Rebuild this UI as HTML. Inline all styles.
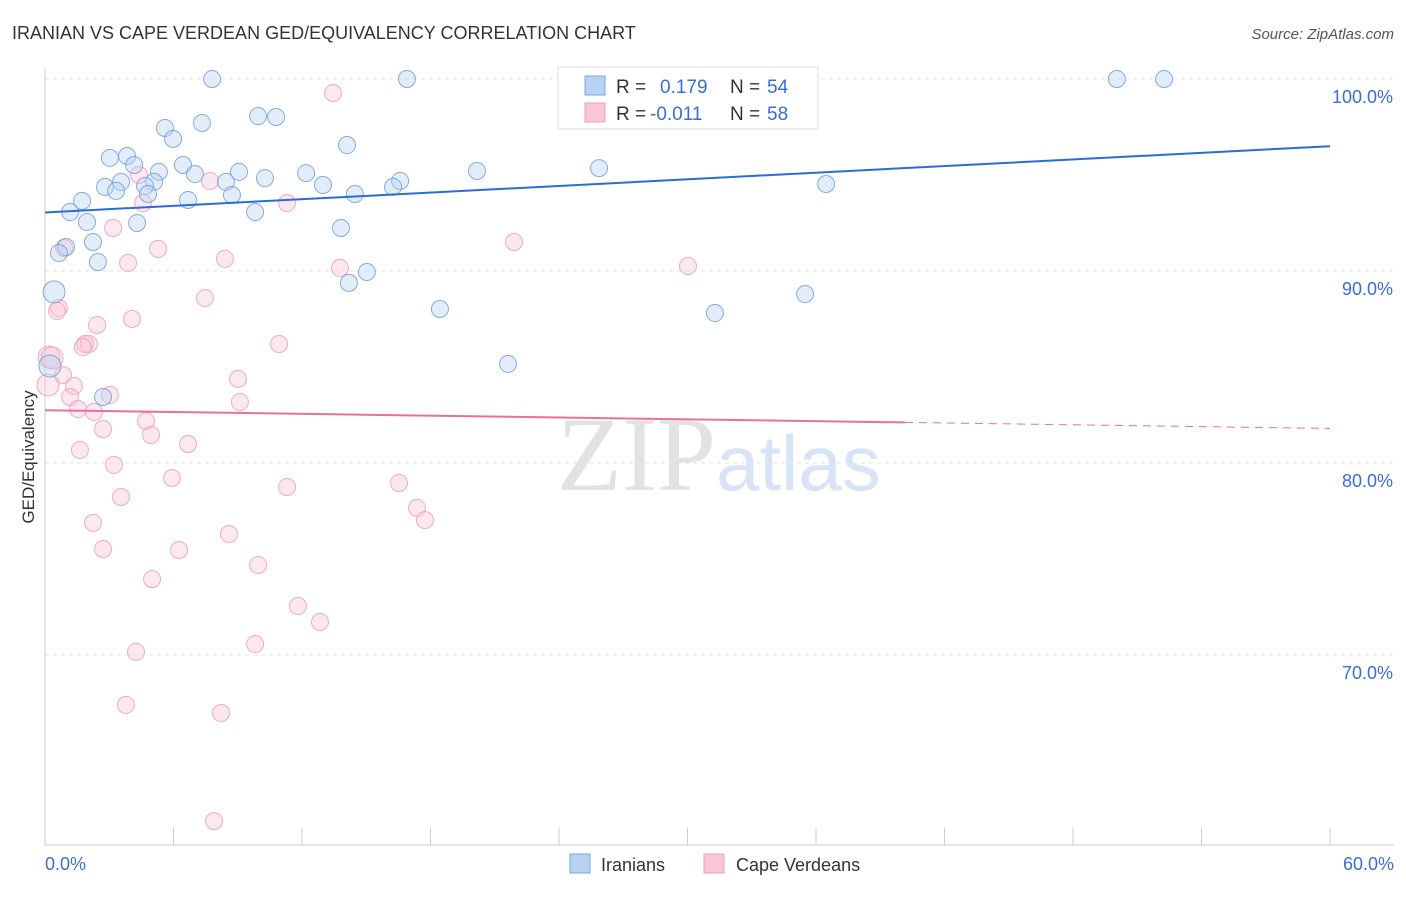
<!DOCTYPE html>
<html><head><meta charset="utf-8"><style>
body{margin:0;background:#fff;font-family:"Liberation Sans",sans-serif;}
svg text{font-family:"Liberation Sans",sans-serif;}
</style></head><body>
<svg id="chart" width="1406" height="892" viewBox="0 0 1406 892" xmlns="http://www.w3.org/2000/svg">
<text x="12" y="39" font-size="18" fill="#333">IRANIAN VS CAPE VERDEAN GED/EQUIVALENCY CORRELATION CHART</text>
<text x="1394" y="39" font-size="15" fill="#555" text-anchor="end" font-style="italic">Source: ZipAtlas.com</text>
<text x="716" y="490" font-size="106" fill="#e2e2e2" text-anchor="end" style="font-family:'Liberation Serif',serif">ZIP</text>
<text x="716" y="490" font-size="78" fill="#d6e4f5">atlas</text>
<g id="grid"></g>
<g id="axes"></g>
<g id="pts"></g>
<g id="lines"></g>
<text transform="translate(34,457) rotate(-90)" font-size="17" fill="#333" text-anchor="middle">GED/Equivalency</text>
<g>
<rect x="558" y="67" width="260" height="62" fill="#fff" stroke="#ddd"/>
<rect x="585" y="76" width="20" height="19" fill="#b9d1f2" stroke="#7aa6e0"/>
<rect x="585" y="103" width="20" height="19" fill="#f9c6d6" stroke="#eea0b9"/>
<text x="616" y="93" font-size="19" fill="#333">R = </text><text x="660" y="93" font-size="19" fill="#3a6fd0">0.179</text>
<text x="730" y="93" font-size="19" fill="#333">N = </text><text x="767" y="93" font-size="19" fill="#3a6fd0">54</text>
<text x="616" y="120" font-size="19" fill="#333">R = </text><text x="650" y="120" font-size="19" fill="#3a6fd0">-0.011</text>
<text x="730" y="120" font-size="19" fill="#333">N = </text><text x="767" y="120" font-size="19" fill="#3a6fd0">58</text>
</g>
<g>
<rect x="570" y="854" width="20" height="19" fill="#b9d1f2" stroke="#7aa6e0"/>
<text x="601" y="871" font-size="18" fill="#333">Iranians</text>
<rect x="704" y="854" width="20" height="19" fill="#f9c6d6" stroke="#eea0b9"/>
<text x="736" y="871" font-size="18" fill="#333">Cape Verdeans</text>
</g>
</svg>
<script>
const blueX=[7.80,16.90,50.05,52.25,9.95,10.79,7.33,5.60,5.98,14.10,3.03,3.83,4.16,6.44,5.32,9.06,7.00,12.19,20.17,25.87,10.27,3.55,5.09,2.80,4.67,8.45,12.98,16.58,16.25,36.47,3.32,4.81,8.73,14.47,6.68,1.73,1.17,9.81,1.96,4.30,13.82,2.24,0.98,0.65,2.47,15.03,14.19,0.42,35.49,18.44,31.28,21.62,0.23,2.71];
const blueY=[100,100,100,100,98.07,98.02,97.71,97.45,96.88,96.56,95.89,95.99,95.52,95.52,95.16,95.16,95.05,95.10,95.21,95.36,94.84,94.64,94.64,94.38,94.43,94.64,94.48,94.69,94.38,94.53,94.17,94.01,93.96,94.01,93.70,93.65,93.07,93.07,92.55,92.50,92.24,91.51,91.25,90.94,90.47,89.95,89.38,88.91,88.80,88.02,87.81,85.16,85.05,83.44];
const pinkX=[13.45,7.70,4.39,4.58,11.30,3.18,21.90,5.28,0.89,3.88,8.40,30.02,13.77,7.47,0.65,0.56,2.43,4.06,10.93,1.87,2.05,1.77,0.19,0.33,0.84,9.01,0.14,1.35,3.03,1.17,9.10,1.54,2.29,4.72,2.71,4.95,6.68,1.63,3.22,5.93,11.30,16.53,3.55,17.37,17.74,2.24,8.59,2.71,6.26,9.95,5.00,11.81,12.84,4.25,9.81,3.78,8.22,7.89];
const pinkY=[99.27,94.69,95.00,93.54,93.54,92.24,91.51,91.15,91.20,90.42,90.63,90.26,90.16,88.59,88.07,87.92,87.19,87.50,86.20,86.20,86.20,86.04,85.52,85.47,84.58,84.38,84.06,84.01,83.54,83.44,83.18,82.81,82.66,82.19,81.77,81.46,80.99,80.68,79.90,79.22,78.75,78.96,78.23,77.66,77.03,76.88,76.30,75.52,75.47,74.69,73.96,72.55,71.72,70.16,70.57,67.40,66.98,61.35];
const yTicks=[100,90,80,70];
const yTickLabels=["100.0%","90.0%","80.0%","70.0%"];
const xTickLabels=["0.0%","60.0%"];
const blueTrend=[93.05,96.5];
const pinkTrend=[82.75,81.8];
const pinkSolidEnd=40.15;
const NS="http://www.w3.org/2000/svg";
const X=v=>45+v*1285/60, Y=v=>79+(100-v)*19.2;
function mk(tag,attrs,parent){const e=document.createElementNS(NS,tag);for(const k in attrs)e.setAttribute(k,attrs[k]);document.getElementById(parent).appendChild(e);return e;}
yTicks.forEach((t,i)=>{
 const l=mk('line',{x1:45,x2:1394,y1:Y(t),y2:Y(t),stroke:'#e3e3e3','stroke-dasharray':'4,4'},'grid');
 
 
 const tx=mk('text',{x:1393,y:Y(t)+24,'font-size':18,fill:'#3a6fd0','text-anchor':'end'},'grid');
 tx.textContent=yTickLabels[i];
 
 
});
const ax=mk('line',{x1:45,x2:45,y1:68,y2:845,stroke:'#ccc'},'axes');


const bx=mk('line',{x1:45,x2:1394,y1:845,y2:845,stroke:'#ccc'},'axes');


for(let i=0;i<=10;i++){const t=mk('line',{x1:X(i*6),x2:X(i*6),y1:828,y2:845,stroke:'#ccc'},'axes');
 
 }
[[0,'start',45],[60,'end',1394]].forEach((a,i)=>{const t=mk('text',{x:a[2],y:870,'font-size':18,fill:'#3a6fd0','text-anchor':a[1]},'axes');t.textContent=xTickLabels[i];
 
 });
function dots(xs,ys,fill,stroke,name){xs.forEach((x,i)=>{const r=x<0.5?11:8.5;
 const c=mk('circle',{cx:X(x),cy:Y(ys[i]),r:r,fill:fill,'fill-opacity':0.4,stroke:stroke,'stroke-opacity':0.85,'stroke-width':1},'pts');
 
 });}
dots(pinkX,pinkY,'#f9c6d6','#ec9db7','cape-verdean-point');
dots(blueX,blueY,'#b9d1f2','#6f9fdc','iranian-point');
const bl=mk('line',{x1:X(0),y1:Y(blueTrend[0]),x2:X(60),y2:Y(blueTrend[1]),stroke:'#2a6dd6','stroke-width':2},'lines');


const pm=pinkTrend[0]+(pinkTrend[1]-pinkTrend[0])*pinkSolidEnd/60;
const pl=mk('line',{x1:X(0),y1:Y(pinkTrend[0]),x2:X(pinkSolidEnd),y2:Y(pm),stroke:'#e8709a','stroke-width':2},'lines');


const pd=mk('line',{x1:X(pinkSolidEnd),y1:Y(pm),x2:X(60),y2:Y(pinkTrend[1]),stroke:'#e8709a','stroke-width':1,'stroke-dasharray':'8,6'},'lines');


</script>
</body></html>
